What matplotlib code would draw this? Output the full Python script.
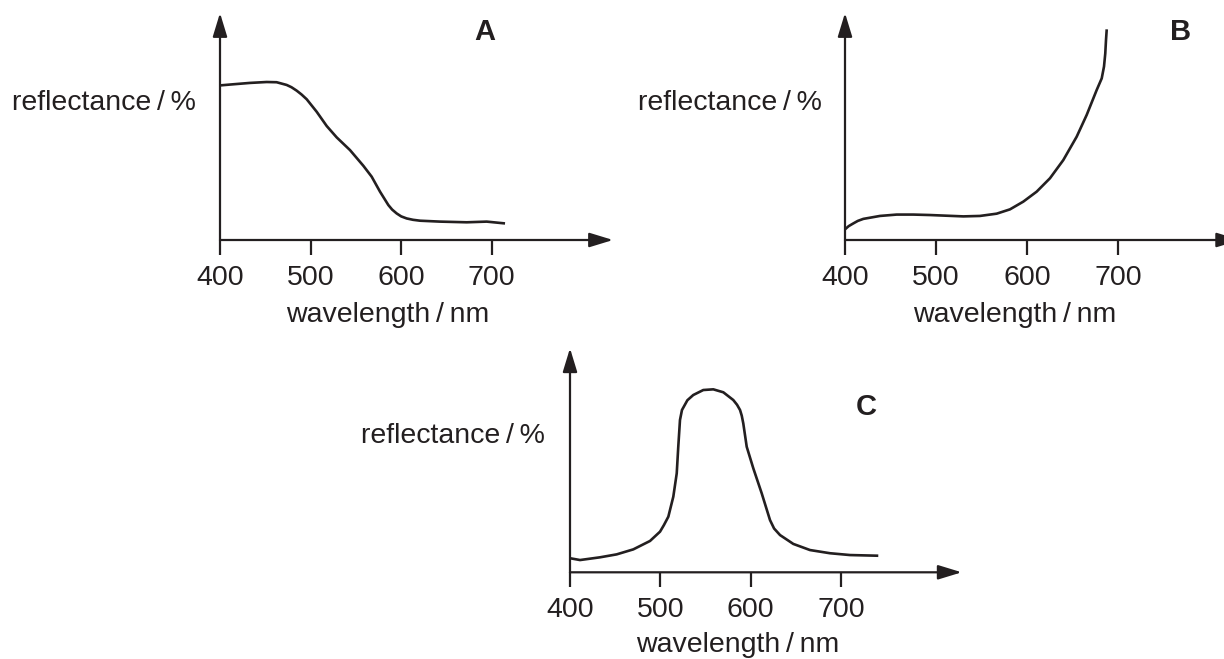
import matplotlib
matplotlib.use("Agg")
import matplotlib.pyplot as plt

plt.rcParams['font.family'] = ['Liberation Sans', 'DejaVu Sans']

INK = '#231f20'

# ---- data (wavelength / nm, reflectance / arbitrary %) ----
wl_a = [400, 414.7, 433.1, 451.5, 462.5, 473.6, 478.9, 484.6, 490, 495.7, 506.7, 517.8, 528.8,
        543.5, 558.2, 567.4, 576.6, 585.8, 590, 595, 600, 606, 613, 620.8, 642.8, 672.3,
        694.4, 714.6]
refl_a = [68.1, 68.6, 69.2, 69.6, 69.5, 68.3, 67.3, 65.8, 64.1, 62.0, 56.5, 50.2, 45.2,
          39.6, 32.7, 27.9, 21.3, 15.4, 13.4, 11.7, 10.4, 9.5, 8.9, 8.5, 8.1, 7.8,
          8.1, 7.3]

wl_b = [400, 404, 409.1, 414, 420.1, 438.4, 456.7, 475, 493.3, 511.6, 529.9, 548.2, 566.5,
        581.1, 595.7, 610.4, 625, 639.6, 654.3, 665.3, 676.3, 681.8, 684.3, 685.7,
        686.5, 687.3]
refl_b = [4.7, 6.1, 7.3, 8.4, 9.3, 10.6, 11.2, 11.2, 11.0, 10.7, 10.4, 10.6, 11.6,
          13.5, 16.9, 21.3, 27.2, 35.2, 45.5, 55.1, 66.1, 71.2, 76.4, 82.2,
          88.1, 92.8]

wl_c = [400, 411.1, 433.2, 451.7, 470.1, 488.6, 499.7, 504, 508.9, 514.4, 518.2, 519.9,
        521.8, 524, 530, 536.5, 547.6, 558.7, 569.8, 580.8, 585, 588.3, 590.2, 591.9, 595.7,
        603, 612.3, 621.5, 626, 632.6, 647.3, 665.8, 687.9, 710.1, 741.4]
refl_c = [6.2, 5.4, 6.6, 7.9, 10.1, 13.8, 17.9, 20.8, 24.5, 33.3, 43.6, 55.3,
          67.1, 71.5, 75.8, 78.1, 80.3, 80.6, 79.3, 75.9, 73.8, 71.5, 69.0, 65.6, 55.3,
          45.8, 34.8, 23.0, 19.3, 16.4, 12.5, 9.8, 8.4, 7.6, 7.3]

tick_values = [400, 500, 600, 700]
tick_labels = ['400', '500', '600', '700']
panel_names = ['A', 'B', 'C']
xlabel = 'wavelength\u2009/\u2009nm'
ylabel = 'reflectance\u2009/\u2009%'

W, H = 1224, 659
fig = plt.figure(figsize=(W / 100, H / 100), dpi=100)
fig.patch.set_facecolor('white')

XMAX = 833.8


def make_panel(x0, y0, px_per_nm, ytop, wl, refl, name, name_xy, xl_xy, yl_xy):
    width_px = (XMAX - 400) * px_per_nm
    height_px = ytop * 2.27
    ax = fig.add_axes([x0 / W, 1 - y0 / H, width_px / W, height_px / H])
    ax.set_xlim(400, XMAX)
    ax.set_ylim(0, ytop)
    for s in ax.spines.values():
        s.set_visible(False)
    ax.patch.set_alpha(0)
    ax.set_yticks([])
    ax.set_xticks(tick_values)
    ax.set_xticklabels(tick_labels, fontsize=20.5, color=INK)
    ax.tick_params(axis='x', direction='out', length=11, width=1.6, color=INK, pad=7)
    # axes arrows
    ap = dict(arrowstyle='-|>,head_length=0.72,head_width=0.22', lw=1.6, color=INK,
              shrinkA=0, shrinkB=0, mutation_scale=20)
    ax.annotate('', xy=(XMAX, 0), xytext=(400, 0), arrowprops=ap, annotation_clip=False)
    ax.annotate('', xy=(400, ytop), xytext=(400, 0), arrowprops=ap, annotation_clip=False)
    ax.plot(wl, refl, color=INK, lw=1.9, solid_capstyle='butt', solid_joinstyle='round',
            clip_on=False)
    fig.text(name_xy[0] / W, 1 - name_xy[1] / H, name, fontsize=21, fontweight='bold',
             ha='center', va='center', color=INK)
    fig.text(xl_xy[0] / W, 1 - xl_xy[1] / H, xlabel, fontsize=20.5, ha='center',
             va='baseline', color=INK)
    fig.text(yl_xy[0] / W, 1 - yl_xy[1] / H, ylabel, fontsize=20.5, ha='right',
             va='baseline', color=INK)
    return ax


make_panel(220, 240, 0.906, 100, wl_a, refl_a, panel_names[0], (485, 32), (388, 322.5), (196, 110))
make_panel(845, 240, 0.911, 100, wl_b, refl_b, panel_names[1], (1181, 32), (1015, 322), (822, 110))
make_panel(570, 572.3, 0.903, 98.7, wl_c, refl_c, panel_names[2], (866, 407), (738, 652), (545, 443))

fig.savefig('out.png', dpi=100, facecolor='white')
